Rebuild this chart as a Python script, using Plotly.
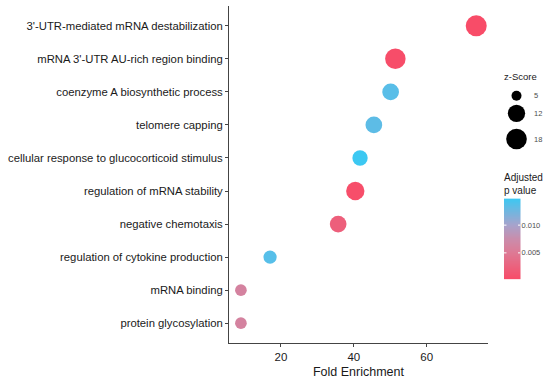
import plotly.graph_objects as go
import numpy as np

# ---- data ----
terms = [
    "3'-UTR-mediated mRNA destabilization",
    "mRNA 3'-UTR AU-rich region binding",
    "coenzyme A biosynthetic process",
    "telomere capping",
    "cellular response to glucocorticoid stimulus",
    "regulation of mRNA stability",
    "negative chemotaxis",
    "regulation of cytokine production",
    "mRNA binding",
    "protein glycosylation",
]
fold_enrichment = [73.6, 51.4, 50.1, 45.5, 41.7, 40.4, 35.7, 17.0, 9.0, 9.0]
z_score = [18.7, 17.6, 11.1, 11.1, 9.3, 13.6, 11.1, 7.1, 5.9, 5.9]
adj_p = [0.0002, 0.0003, 0.0135, 0.0133, 0.0148, 0.0004, 0.0022, 0.0136, 0.0061, 0.0061]
size_breaks = [5, 12, 18]
p_ticks = [0.005, 0.010]

# ---- styling helpers ----
def diam(z):
    z = np.asarray(z, dtype=float)
    return 7.45 + 3.6 * np.sqrt(np.clip(z - 4.5, 0, None))

colorscale = [
    [0.0, "#F84C68"],
    [0.33, "#DD7A95"],
    [0.5, "#C98DAC"],
    [0.67, "#A7A3CC"],
    [1.0, "#3CC8F2"],
]

W, H = 550, 383
ml, mr, mt, mb = 5, 5, 6, 40
pw = W - ml - mr
ph = H - mt - mb
def px_x(x):
    return (x - ml) / pw
def px_y(y):
    return (H - mb - y) / ph

FONT = "Liberation Sans, Arial, sans-serif"
pmin, pmax = min(adj_p), max(adj_p)

fig = go.Figure()
fig.add_trace(go.Scatter(
    x=fold_enrichment, y=terms, mode="markers",
    marker=dict(
        size=diam(z_score), sizemode="diameter",
        color=adj_p, colorscale=colorscale, cmin=pmin, cmax=pmax,
        line=dict(width=0), opacity=1, showscale=False,
    ),
    showlegend=False, hoverinfo="skip",
))

# size legend drawn on its own small axes
key_offsets = [0, 17.5, 43.2]
fig.add_trace(go.Scatter(
    x=[0] * len(size_breaks), y=key_offsets, mode="markers",
    marker=dict(size=diam(size_breaks), color="black", line=dict(width=0), opacity=1),
    xaxis="x2", yaxis="y2", showlegend=False, hoverinfo="skip",
))

# colour bar drawn as a gradient strip on its own axes
grad = np.linspace(pmin, pmax, 200)
fig.add_trace(go.Heatmap(
    z=grad.reshape(-1, 1), y=grad, x=[0],
    colorscale=colorscale, zmin=pmin, zmax=pmax, showscale=False,
    xaxis="x3", yaxis="y3", hoverinfo="skip",
))

cat_order = terms[::-1]
fig.update_layout(
    template="none",
    width=W, height=H,
    margin=dict(l=ml, r=mr, t=mt, b=mb, autoexpand=False),
    paper_bgcolor="white", plot_bgcolor="white",
    font=dict(family=FONT, color="#1a1a1a"),
    xaxis=dict(
        domain=[px_x(229), px_x(488)], automargin=False,
        range=[5.73, 76.83],
        tickvals=[20, 40, 60],
        showgrid=False, zeroline=False,
        showline=True, linecolor="#444444", linewidth=1,
        ticks="outside", ticklen=3, tickcolor="#444444",
        tickfont=dict(size=11.5, color="#1a1a1a"),
        title=dict(text="Fold Enrichment", font=dict(size=12.5, color="#1a1a1a"), standoff=5),
    ),
    yaxis=dict(
        domain=[0, 1], automargin=False,
        type="category", categoryorder="array", categoryarray=cat_order,
        range=[-0.6, 9.6],
        showgrid=False, zeroline=False,
        showline=True, linecolor="#444444", linewidth=1,
        ticks="outside", ticklen=3, tickcolor="#444444",
        tickfont=dict(size=11.3, color="#1a1a1a"),
    ),
    xaxis2=dict(
        domain=[px_x(500), px_x(533)], range=[-1, 1], anchor="y2",
        visible=False, automargin=False,
    ),
    yaxis2=dict(
        domain=[px_y(150), px_y(85)], range=[54.2, -10.8], anchor="x2",
        side="right", showline=False, showgrid=False, zeroline=False, automargin=False,
        tickvals=key_offsets, ticktext=[str(b) for b in size_breaks],
        ticks="", tickfont=dict(size=7.5, color="#4d4d4d"),
    ),
    xaxis3=dict(
        domain=[px_x(504), px_x(520.5)], range=[-0.5, 0.5], anchor="y3",
        visible=False, automargin=False,
    ),
    yaxis3=dict(
        domain=[px_y(279.5), px_y(198.5)], range=[pmin, pmax], anchor="x3",
        side="right", showline=False, showgrid=False, zeroline=False, automargin=False,
        tickvals=p_ticks, ticktext=[f"{v:.3f}" for v in p_ticks],
        ticks="", tickfont=dict(size=7.5, color="#4d4d4d"),
    ),
    annotations=[
        dict(text="z-Score", xref="paper", yref="paper",
             x=px_x(502), y=px_y(77), xanchor="left", yanchor="middle",
             showarrow=False, font=dict(family=FONT, size=9.5, color="#1a1a1a")),
        dict(text="Adjusted<br>p value", xref="paper", yref="paper",
             x=px_x(502), y=px_y(184), xanchor="left", yanchor="middle", align="left",
             showarrow=False, font=dict(family=FONT, size=10, color="#1a1a1a")),
    ],
)

# white tick marks across the colour bar, at both edges
for v in p_ticks:
    for x0, x1 in ((-0.5, -0.35), (0.35, 0.5)):
        fig.add_shape(type="line", xref="x3", yref="y3", x0=x0, x1=x1, y0=v, y1=v,
                      line=dict(color="white", width=1))

fig.write_html("out.html", config={"displayModeBar": False},
               post_script="document.body.style.margin='0px';")
